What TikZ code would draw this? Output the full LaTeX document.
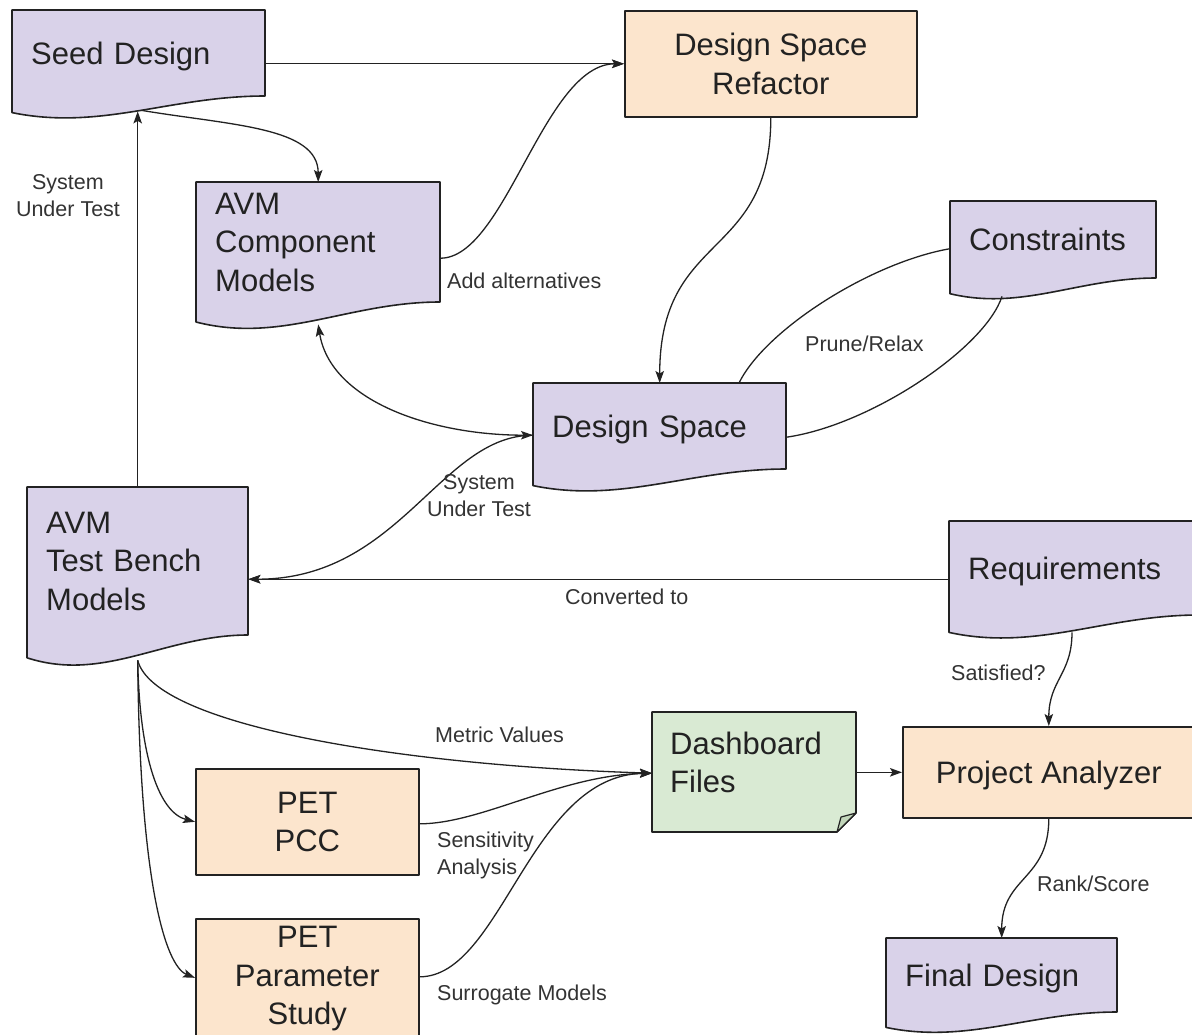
\documentclass[tikz,border=0pt]{standalone}
\usepackage{fontspec}
\setmainfont{Liberation Sans}
\usetikzlibrary{arrows.meta,calc}

\definecolor{lav}{HTML}{D9D2E9}
\definecolor{peach}{HTML}{FCE5CD}
\definecolor{mint}{HTML}{D9EAD3}
\definecolor{mintfold}{HTML}{C2D6BA}
\definecolor{ink}{HTML}{222222}
\definecolor{lblgray}{HTML}{333333}

\tikzset{
  outline/.style={draw=ink, line width=1.6pt, line join=round},
  conn/.style={draw=ink, line width=1.3pt},
  arr/.style={conn, -{Stealth[length=12pt,width=8.5pt,inset=2.5pt]}},
  dblarr/.style={conn, {Stealth[length=12pt,width=8.5pt,inset=2.5pt]}-{Stealth[length=12pt,width=8.5pt,inset=2.5pt]}},
  boxfont/.style={font=\fontsize{31}{38.5}\selectfont},
  docbox/.style={boxfont, inner xsep=19pt, inner ysep=0pt, align=left, anchor=north west, text=ink},
  oneline/.style={text depth=0pt},
  procbox/.style={outline, fill=peach, boxfont, align=center, anchor=north west, inner sep=0pt, text=ink},
  lbl/.style={font=\fontsize{21.5}{27}\selectfont, text=lblgray, inner sep=0pt},
}

% document shape: [extra node options], name, left, top, width, height of straight part, text
\newcommand\docnode[7][]{%
  \pgfmathsetmacro\dd{8+0.1*#6}%
  \draw[outline, fill=lav] (#3,#4) -- ({#3+#5},#4) -- ({#3+#5},{#4+#6})
    .. controls ({#3+0.625*#5},{#4+#6}) and ({#3+0.35*#5},{#4+#6+2.1*\dd})
    .. (#3,{#4+#6+\dd}) -- cycle;
  \pgfmathsetmacro\tw{#5-38}%
  \node[docbox, text width=\tw pt, minimum height=#6pt, #1] (#2) at (#3,#4) {#7};
}

\begin{document}
\begin{tikzpicture}[x=1pt, y=-1pt]
\useasboundingbox (0,0) rectangle (1192,1034);

% documents
\docnode[oneline]{seed}{12}{10}{253}{86}{Seed Design}
\docnode{comp}{196}{182}{244}{120}{AVM\\Component\\Models}
\docnode{cons}{950}{201}{206}{77}{Constraints}
\docnode[oneline]{ds}{533}{383}{253}{86}{Design Space}
\docnode{tb}{27}{487}{221}{148}{AVM\\Test Bench\\Models}
\docnode[oneline]{req}{949}{521}{250}{94}{Requirements}
\docnode[oneline]{fin}{886}{938}{231}{74}{Final Design}

% processes
\node[procbox, minimum width=292pt, minimum height=106pt] (refactor) at (624,10) {Design Space\\Refactor};
\node[procbox, minimum width=223pt, minimum height=106pt] (pcc) at (195,768) {PET\\PCC};
\node[procbox, minimum width=223pt, minimum height=120pt] (pps) at (195,918) {PET\\Parameter\\Study};
\node[procbox, minimum width=292pt, minimum height=91pt, oneline] (pa) at (902,726) {Project Analyzer};

% dashboard note with folded corner
\draw[outline, fill=mint] (652,712) -- (856,712) -- (856,813) -- (837,832) -- (652,832) -- cycle;
\draw[outline, fill=mintfold, line width=1.2pt] (856,813) -- (841,817) -- (837,832) -- cycle;
\node[boxfont, text=ink, align=left, anchor=north west, inner xsep=18pt, inner ysep=0pt,
      text width=168pt, minimum height=100pt] (dash) at (652,712) {Dashboard\\Files};

% connectors
\draw[arr] (refactor.west -| seed.east) -- (refactor.west);
\coordinate (seedtip) at ($(seed.south)+(-1,15)$);
\draw[arr] (tb.north) -- (tb.north |- seedtip);
\draw[arr] ($(seed.south)+(3,14)$) .. controls +(90,15) and +(0,-55) .. (comp.north);
\draw[arr] ($(comp.east)+(0,16)$) .. controls +(65,0) and +(-80,0) .. (refactor.west);
\draw[arr] (refactor.south) .. controls +(0,144) and +(0,-153) .. (ds.north);
\draw[conn] ($(cons.west)+(0,9)$) .. controls +(-80,14) and +(26,-53) .. ($(ds.north west)+(206,0)$);
\draw[conn] ($(cons.south west)+(52,18)$) .. controls +(-17,52) and +(84,-12) .. ($(ds.east)+(0,11)$);
\draw[dblarr] ($(comp.south)+(0,22)$) .. controls +(12,76) and +(-103,0) .. ($(ds.west)+(0,9)$);
\draw[arr] ($(ds.west)+(0,9)$) .. controls +(-93,0) and +(152,0) .. ($(tb.east)+(0,18)$);
\draw[arr] ($(req.west)+(0,11)$) -- ($(tb.east)+(0,18)$);

\coordinate (tbout) at ($(tb.south)+(0,25)$);
\draw[arr] (tbout) .. controls +(17,65) and +(-252,-8) .. ($(dash.west)+(0,11)$);
\draw[arr] (tbout) .. controls +(2,100) and +(-35,-9) .. (pcc.west);
\draw[arr] (tbout) .. controls +(2,220) and +(-30,-12) .. ($(pps.west)+(0,-1)$);
\draw[arr] ($(pcc.east)+(0,2)$) .. controls +(62,0) and +(-92,2) .. ($(dash.west)+(0,11)$);
\draw[arr] ($(pps.east)+(0,-2)$) .. controls +(82,0) and +(-122,2) .. ($(dash.west)+(0,11)$);
\draw[arr] (pa.west -| dash.east) -- (pa.west);
\draw[arr] ($(req.south west)+(123,17)$) .. controls +(0,42) and +(0,-46) .. (pa.north);
\draw[arr] (pa.south) .. controls +(0,62) and +(0,-62) .. (fin.north);

% connector labels
\node[lbl, align=center] (lsut1) at (68,195.5) {System\\Under Test};
\node[lbl, anchor=west] (ladd) at (447,281) {Add alternatives};
\node[lbl, anchor=west] (lprune) at (805,344) {Prune/Relax};
\node[lbl, align=center] (lsut2) at (479,495.5) {System\\Under Test};
\node[lbl, anchor=west] (lconv) at (565,597) {Converted to};
\node[lbl, anchor=west] (lsat) at (951,673) {Satisfied?};
\node[lbl, anchor=west] (lmetric) at (435,735) {Metric Values};
\node[lbl, anchor=west, align=left] (lsens) at (437,855.5) {Sensitivity\\Analysis};
\node[lbl, anchor=west] (lsurr) at (437,995) {Surrogate Models};
\node[lbl, anchor=west] (lrank) at (1037,884) {Rank/Score};
\end{tikzpicture}
\end{document}
